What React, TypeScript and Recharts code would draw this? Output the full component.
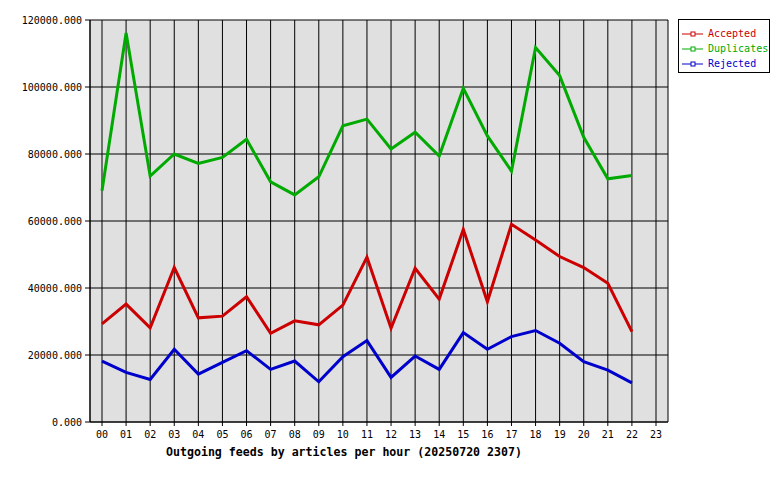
import React from 'react';
import { LineChart, Line, XAxis, YAxis, CartesianGrid } from 'recharts';

const hours = ['00','01','02','03','04','05','06','07','08','09','10','11','12','13','14','15','16','17','18','19','20','21','22','23'];
const accepted = [29300, 35200, 28100, 46100, 31100, 31600, 37400, 26500, 30200, 29000, 34900, 49200, 28000, 45900, 36700, 57500, 35900, 59000, 54300, 49400, 46100, 41400, 27000, null];
const duplicates = [69000, 116100, 73400, 80000, 77200, 79000, 84400, 71700, 67800, 73200, 88400, 90400, 81500, 86500, 79400, 99600, 85400, 74900, 111800, 103400, 85000, 72600, 73600, null];
const rejected = [18200, 14800, 12700, 21700, 14300, 17800, 21300, 15700, 18200, 12000, 19500, 24300, 13300, 19700, 15700, 26700, 21700, 25500, 27300, 23500, 18000, 15500, 11700, null];
const yTicks = [0, 20000, 40000, 60000, 80000, 100000, 120000];
const title = 'Outgoing feeds by articles per hour (20250720 2307)';

const series = [
  { key: 'Accepted', color: '#cc0000' },
  { key: 'Duplicates', color: '#00aa00' },
  { key: 'Rejected', color: '#0000cc' },
];

const data = hours.map((h, i) => ({
  hour: h,
  Accepted: accepted[i],
  Duplicates: duplicates[i],
  Rejected: rejected[i],
}));

const mono = '"DejaVu Sans Mono", "Liberation Mono", monospace';

const TitleLabel = (props: any) => {
  const vb = props.viewBox || { x: 0, y: 0, width: 0, height: 0 };
  return (
    <text
      x={vb.x + vb.width / 2 - 35}
      y={vb.y + 34}
      textAnchor="middle"
      fontFamily={mono}
      fontWeight="bold"
      fontSize={11.6}
      fill="#000"
    >
      {title}
    </text>
  );
};

const LegendBox = () => (
  <div
    style={{
      position: 'absolute',
      left: 678,
      top: 19,
      width: 92,
      height: 54,
      border: '1px solid #000',
      background: '#fff',
      boxSizing: 'border-box',
      fontFamily: mono,
      fontSize: 10,
      paddingTop: 6,
    }}
  >
    {series.map((s) => (
      <div key={s.key} style={{ display: 'flex', alignItems: 'center', height: 15, marginLeft: 3 }}>
        <svg width={22} height={8} style={{ marginRight: 4 }}>
          <line x1={0} y1={4} x2={21} y2={4} stroke={s.color} strokeWidth={1} />
          <rect x={9} y={2} width={4} height={4} fill="#fff" stroke={s.color} strokeWidth={1} />
        </svg>
        <span style={{ color: s.color }}>{s.key}</span>
      </div>
    ))}
  </div>
);

export default function App() {
  return (
    <div style={{ position: 'absolute', left: 0, top: 0, width: 780, height: 480, background: '#fff' }}>
      <LineChart
        width={780}
        height={480}
        data={data}
        margin={{ top: 20, right: 112, left: 0, bottom: 0 }}
      >
        <CartesianGrid
          stroke="#000"
          strokeWidth={1}
          fill="#e0e0e0"
          fillOpacity={1}
        />
        <XAxis
          dataKey="hour"
          interval={0}
          height={58}
          padding={{ left: 12, right: 12 }}
          tickSize={4}
          tickMargin={5}
          axisLine={{ stroke: '#000' }}
          tickLine={{ stroke: '#000' }}
          tick={{ fill: '#000', fontFamily: mono, fontSize: 10 }}
          label={<TitleLabel />}
        />
        <YAxis
          width={90}
          domain={[0, 120000]}
          ticks={yTicks}
          interval={0}
          tickFormatter={(v: number) => v.toFixed(3)}
          tickSize={5}
          tickMargin={3}
          axisLine={{ stroke: '#000' }}
          tickLine={{ stroke: '#000' }}
          tick={{ fill: '#000', fontFamily: mono, fontSize: 10 }}
        />
        <YAxis
          yAxisId="right"
          orientation="right"
          width={0}
          tick={false}
          tickLine={false}
          axisLine={{ stroke: '#000' }}
        />
        {series.map((s) => (
          <Line
            key={s.key}
            type="linear"
            dataKey={s.key}
            stroke={s.color}
            strokeWidth={3}
            dot={false}
            activeDot={false}
            isAnimationActive={false}
            connectNulls={false}
          />
        ))}
      </LineChart>
      <LegendBox />
    </div>
  );
}
